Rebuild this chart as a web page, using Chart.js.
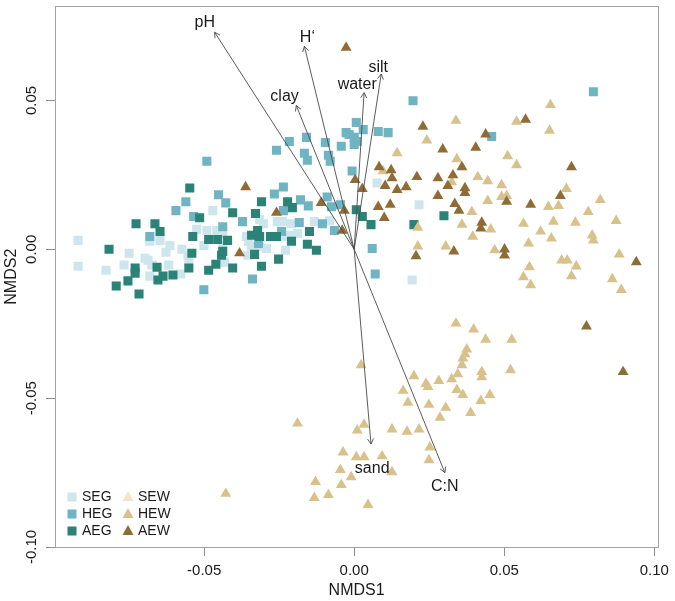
<!DOCTYPE html>
<html><head><meta charset="utf-8">
<script src="https://cdn.jsdelivr.net/npm/chart.js@4.4.0/dist/chart.umd.min.js"></script>
<style>html,body{margin:0;padding:0;background:#fff}</style>
</head><body>
<canvas id="c" width="675" height="601"></canvas>
<script>
// ---- data (NMDS1, NMDS2) ----
const SEG = [[-0.0920,0.0030],[-0.0920,-0.0057],[-0.0827,-0.0070],[-0.0767,-0.0053],[-0.0750,-0.0013],[-0.0697,-0.0030],[-0.0687,-0.0037],[-0.0674,-0.0053],[-0.0681,-0.0090],[-0.0681,0.0027],[-0.0647,0.0030],[-0.0627,-0.0010],[-0.0614,0.0013],[-0.0618,-0.0053],[-0.0578,-0.0083],[-0.0574,0.0000],[-0.0554,-0.0020],[-0.0551,-0.0040],[-0.0525,0.0067],[-0.0491,0.0063],[-0.0458,0.0063],[-0.0438,0.0053],[-0.0501,0.0013],[-0.0471,0.0130],[-0.0432,-0.0043],[-0.0438,0.0010],[-0.0359,0.0043],[-0.0352,0.0027],[-0.0355,-0.0020],[-0.0342,0.0010],[-0.0315,0.0100],[-0.0302,0.0086],[-0.0315,0.0010],[-0.0292,0.0003],[-0.0256,0.0093],[-0.0239,0.0093],[-0.0209,0.0086],[-0.0189,0.0053],[-0.0216,0.0047],[-0.0229,-0.0003],[-0.0242,0.0043],[-0.0133,0.0093],[-0.0083,0.0096],[0.0076,0.0223],[0.0216,0.0150],[0.0193,-0.0103]];
const HEG = [[0.0007,0.0426],[-0.0017,0.0386],[0.0000,0.0376],[0.0010,0.0362],[0.0000,0.0352],[0.0030,0.0402],[0.0080,0.0396],[0.0113,0.0392],[-0.0216,0.0362],[-0.0159,0.0376],[-0.0096,0.0359],[-0.0043,0.0346],[-0.0259,0.0333],[-0.0166,0.0323],[-0.0156,0.0299],[-0.0086,0.0316],[-0.0080,0.0296],[-0.0491,0.0296],[-0.0007,0.0263],[-0.0236,0.0209],[-0.0452,0.0183],[-0.0428,0.0156],[-0.0561,0.0160],[-0.0594,0.0130],[-0.0266,0.0186],[-0.0179,0.0166],[-0.0153,0.0146],[-0.0090,0.0176],[-0.0076,0.0143],[-0.0046,0.0150],[-0.0236,0.0130],[-0.0372,0.0093],[-0.0535,0.0110],[-0.0681,0.0043],[-0.0319,0.0020],[-0.0183,0.0090],[-0.0106,0.0086],[-0.0066,0.0063],[-0.0438,0.0076],[-0.0242,0.0060],[-0.0501,-0.0136],[-0.0339,-0.0100],[0.0797,0.0529],[0.0196,0.0499],[0.0458,0.0379],[0.0060,0.0003],[0.0070,-0.0083],[-0.0027,0.0392]];
const AEG = [[-0.0548,0.0206],[-0.0309,0.0160],[-0.0405,0.0123],[-0.0222,0.0160],[-0.0206,0.0140],[-0.0329,0.0120],[-0.0515,0.0106],[-0.0727,0.0086],[-0.0664,0.0086],[-0.0647,0.0060],[-0.0322,0.0063],[-0.0315,0.0043],[-0.0149,0.0060],[0.0007,0.0133],[-0.0538,0.0043],[-0.0485,0.0033],[-0.0455,0.0033],[-0.0422,0.0030],[-0.0342,0.0047],[-0.0279,0.0043],[-0.0209,0.0027],[-0.0156,0.0017],[-0.0126,-0.0003],[-0.0817,0.0000],[-0.0438,-0.0007],[-0.0793,-0.0123],[-0.0754,-0.0106],[-0.0730,-0.0063],[-0.0730,-0.0080],[-0.0717,-0.0150],[-0.0657,-0.0060],[-0.0637,-0.0090],[-0.0654,-0.0103],[-0.0604,-0.0086],[-0.0551,-0.0063],[-0.0541,-0.0013],[-0.0485,-0.0070],[-0.0461,-0.0050],[-0.0442,-0.0020],[-0.0405,-0.0063],[-0.0332,-0.0017],[-0.0309,-0.0057],[-0.0252,-0.0033],[-0.0259,0.0043],[0.0027,0.0110],[0.0056,0.0083],[0.0299,0.0113],[0.0199,0.0083]];
const SEW = [];
const HEW = [[0.0654,0.0485],[0.0541,0.0429],[0.0339,0.0432],[0.0651,0.0399],[0.0242,0.0366],[0.0143,0.0323],[0.0342,0.0303],[0.0511,0.0313],[0.0541,0.0283],[0.0096,0.0263],[0.0325,0.0226],[0.0412,0.0243],[0.0445,0.0229],[0.0491,0.0216],[0.0491,0.0176],[0.0508,0.0180],[0.0445,0.0163],[0.0707,0.0203],[0.0647,0.0143],[0.0681,0.0146],[0.0820,0.0166],[0.0780,0.0126],[0.0873,0.0096],[0.0392,0.0126],[0.0359,0.0083],[0.0455,0.0067],[0.0395,0.0043],[0.0564,0.0086],[0.0621,0.0060],[0.0657,0.0037],[0.0664,0.0093],[0.0737,0.0090],[0.0793,0.0047],[0.0797,0.0030],[0.0581,0.0020],[0.0212,0.0073],[0.0212,0.0010],[0.0305,0.0010],[0.0468,-0.0003],[0.0883,-0.0017],[0.0691,-0.0037],[0.0710,-0.0037],[0.0740,-0.0057],[0.0584,-0.0060],[0.0564,-0.0093],[0.0588,-0.0120],[0.0724,-0.0090],[0.0860,-0.0100],[0.0890,-0.0136],[0.0339,-0.0249],[0.0398,-0.0269],[0.0438,-0.0303],[0.0525,-0.0303],[0.0375,-0.0336],[0.0369,-0.0352],[0.0362,-0.0366],[0.0359,-0.0389],[0.0345,-0.0419],[0.0325,-0.0436],[0.0425,-0.0412],[0.0425,-0.0429],[0.0521,-0.0406],[0.0023,-0.0389],[0.0199,-0.0426],[0.0239,-0.0452],[0.0246,-0.0462],[0.0282,-0.0442],[0.0163,-0.0475],[0.0342,-0.0472],[0.0362,-0.0489],[0.0452,-0.0489],[0.0179,-0.0515],[0.0249,-0.0522],[0.0305,-0.0532],[0.0422,-0.0509],[0.0388,-0.0549],[0.0286,-0.0565],[0.0010,-0.0608],[0.0033,-0.0589],[0.0126,-0.0605],[0.0176,-0.0612],[0.0216,-0.0605],[0.0252,-0.0665],[0.0249,-0.0708],[-0.0037,-0.0682],[0.0007,-0.0698],[0.0033,-0.0698],[0.0093,-0.0695],[-0.0046,-0.0741],[-0.0010,-0.0765],[0.0126,-0.0748],[-0.0043,-0.0791],[0.0046,-0.0858],[-0.0189,-0.0585],[-0.0428,-0.0821],[-0.0129,-0.0781],[-0.0133,-0.0835],[-0.0086,-0.0825]];
const AEW = [[-0.0027,0.0678],[-0.0362,0.0209],[-0.0110,0.0156],[-0.0259,0.0123],[-0.0033,0.0130],[-0.0040,0.0063],[0.0003,0.0233],[-0.0382,-0.0013],[0.0229,0.0412],[0.0438,0.0386],[0.0295,0.0336],[0.0405,0.0342],[0.0571,0.0436],[0.0083,0.0276],[0.0123,0.0266],[0.0126,0.0239],[0.0209,0.0243],[0.0279,0.0239],[0.0329,0.0249],[0.0359,0.0276],[0.0103,0.0213],[0.0143,0.0200],[0.0173,0.0209],[0.0027,0.0203],[0.0312,0.0213],[0.0369,0.0206],[0.0369,0.0190],[0.0279,0.0180],[0.0335,0.0153],[0.0349,0.0130],[0.0080,0.0143],[0.0120,0.0150],[0.0508,0.0160],[0.0588,0.0150],[0.0724,0.0276],[0.0425,0.0090],[0.0422,0.0070],[0.0100,0.0106],[0.0332,-0.0007],[0.0206,-0.0023],[0.0501,0.0000],[0.0501,-0.0020],[0.0940,-0.0043],[0.0774,-0.0259],[0.0896,-0.0412],[0.0687,0.0180]];

// environmental vectors (arrow tips) and label positions
const arrowNames = ['pH','H\u2018','clay','water','silt','sand','C:N'];
const arrowX = [-0.0465,-0.0166,-0.0193,0.0033,0.0090,0.0056,0.0302];
const arrowY = [0.0729,0.0682,0.0483,0.0526,0.0589,-0.0654,-0.0750];
const labelX = [-0.0498,-0.0156,-0.0232,0.0010,0.0080,0.0060,0.0302];
const labelY = [0.0760,0.0712,0.0512,0.0555,0.0612,-0.0735,-0.0798];

// axis ticks
const xTicks = [-0.05, 0.00, 0.05, 0.10];
const yTicks = [-0.10, -0.05, 0.00, 0.05];

const groupNames = ['SEG','HEG','AEG','SEW','HEW','AEW'];
const groupColors = ['#cde5ec','#6fb4c3','#2b8276','#f2e4c4','#d8c18b','#8f6c36'];
const groupData = [SEG, HEG, AEG, SEW, HEW, AEW];

const FONT = '"Liberation Sans", Arial, Helvetica, sans-serif';
const TXT = '#1a1a1a';
const AX = '#8e8e8e';

const toPts = arr => arr.map(p => ({x: p[0], y: p[1]}));

const datasets = [];
arrowNames.forEach((n, i) => {
  datasets.push({type: 'line', label: n, data: [{x: 0, y: 0}, {x: arrowX[i], y: arrowY[i]}],
    borderColor: '#4a4a4a', borderWidth: 0.9, pointRadius: 0, fill: false, tension: 0});
});
// triangles (wetland groups) then squares (grassland groups); first dataset drawn on top
[5, 4, 3, 2, 1, 0].forEach(g => {
  const tri = g >= 3;
  datasets.push({type: 'scatter', label: groupNames[g], data: toPts(groupData[g]),
    pointStyle: tri ? 'triangle' : 'rect', pointRadius: tri ? 6.3 : 6.4,
    backgroundColor: groupColors[g], borderColor: groupColors[g], borderWidth: 0, pointHoverRadius: 6});
});

const extras = {
  id: 'extras',
  afterDatasetsDraw(chart) {
    const {ctx, scales: {x, y}} = chart;
    ctx.save();
    ctx.strokeStyle = '#4a4a4a'; ctx.lineWidth = 0.9;
    const x0 = x.getPixelForValue(0), y0 = y.getPixelForValue(0);
    for (let i = 0; i < arrowNames.length; i++) {
      const x1 = x.getPixelForValue(arrowX[i]), y1 = y.getPixelForValue(arrowY[i]);
      const ang = Math.atan2(y1 - y0, x1 - x0), L = 6, phi = Math.PI / 6;
      ctx.beginPath();
      ctx.moveTo(x1 - L * Math.cos(ang - phi), y1 - L * Math.sin(ang - phi));
      ctx.lineTo(x1, y1);
      ctx.lineTo(x1 - L * Math.cos(ang + phi), y1 - L * Math.sin(ang + phi));
      ctx.stroke();
    }
    ctx.fillStyle = TXT; ctx.font = '16px ' + FONT;
    ctx.textAlign = 'center'; ctx.textBaseline = 'middle';
    arrowNames.forEach((n, i) => ctx.fillText(n, x.getPixelForValue(labelX[i]), y.getPixelForValue(labelY[i])));
    ctx.restore();
  },
  afterDraw(chart) {
    const {ctx, chartArea: a, scales: {y}} = chart;
    ctx.save();
    // box
    ctx.strokeStyle = '#a3a3a3'; ctx.lineWidth = 1;
    ctx.strokeRect(Math.round(a.left) + 0.5, Math.round(a.top) + 0.5, Math.round(a.right - a.left), Math.round(a.bottom - a.top));
    // y tick labels (rotated, R style)
    ctx.fillStyle = TXT; ctx.font = '15px ' + FONT;
    ctx.textAlign = 'center'; ctx.textBaseline = 'alphabetic';
    yTicks.forEach(v => {
      ctx.save();
      ctx.translate(a.left - 19, y.getPixelForValue(v));
      ctx.rotate(-Math.PI / 2);
      ctx.fillText(v.toFixed(2), 0, 0);
      ctx.restore();
    });
    // legend (bottom-left inside the plot)
    ctx.font = '14px ' + FONT; ctx.textAlign = 'left'; ctx.textBaseline = 'middle';
    const cols = [a.left + 17, a.left + 73], rows = [a.bottom - 50, a.bottom - 33, a.bottom - 16];
    groupNames.forEach((n, g) => {
      const cx = cols[Math.floor(g / 3)], cy = rows[g % 3];
      ctx.fillStyle = groupColors[g];
      if (g < 3) {
        ctx.fillRect(cx - 4.5, cy - 4.5, 9, 9);
      } else {
        ctx.beginPath();
        ctx.moveTo(cx, cy - 6); ctx.lineTo(cx + 5.5, cy + 4); ctx.lineTo(cx - 5.5, cy + 4); ctx.closePath(); ctx.fill();
      }
      ctx.fillStyle = TXT;
      ctx.fillText(n, cx + 10, cy + 0.5);
    });
    ctx.restore();
  }
};

new Chart(document.getElementById('c'), {
  type: 'scatter',
  data: {datasets},
  plugins: [extras],
  options: {
    responsive: false, animation: false, devicePixelRatio: 1,
    layout: {padding: {left: 0, right: 15, top: 1, bottom: 0}},
    plugins: {legend: {display: false}, tooltip: {enabled: false}},
    scales: {
      x: {
        type: 'linear', min: -0.0997, max: 0.1013,
        afterBuildTicks: s => { s.ticks = xTicks.map(v => ({value: v})); },
        afterFit: s => { s.height = 54; },
        ticks: {callback: v => Number(v).toFixed(2), font: {family: FONT, size: 15}, color: TXT, padding: 6, maxRotation: 0, autoSkip: false},
        grid: {drawOnChartArea: false, drawTicks: true, tickLength: 9, color: AX},
        border: {display: true, color: '#a3a3a3'},
        title: {display: true, text: 'NMDS1', font: {family: FONT, size: 16}, color: TXT, padding: {top: 0, bottom: 1}}
      },
      y: {
        type: 'linear', min: -0.1, max: 0.0816,
        afterBuildTicks: s => { s.ticks = yTicks.map(v => ({value: v})); },
        afterFit: s => { s.width = 55; },
        ticks: {display: false},
        grid: {drawOnChartArea: false, drawTicks: true, tickLength: 9, color: AX},
        border: {display: true, color: '#a3a3a3'},
        title: {display: true, text: 'NMDS2', font: {family: FONT, size: 16}, color: TXT, padding: {top: 2, bottom: 0}}
      }
    }
  }
});
</script>
</body></html>
